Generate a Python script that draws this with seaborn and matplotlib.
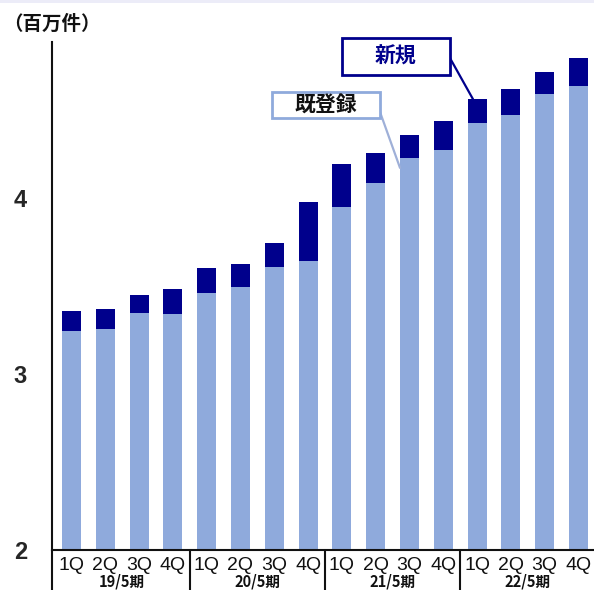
import matplotlib
matplotlib.use("Agg")
import matplotlib.pyplot as plt
import matplotlib.transforms as mtransforms
from matplotlib.patches import Rectangle
import pandas as pd
import seaborn as sns

# Registered items (millions), quarterly, fiscal years ending May
periods = ["19/5期", "20/5期", "21/5期", "22/5期"]
quarters = ["1Q", "2Q", "3Q", "4Q"]
existing = [3.246, 3.257, 3.345, 3.343,
            3.462, 3.493, 3.606, 3.642,
            3.950, 4.083, 4.226, 4.271,
            4.424, 4.472, 4.589, 4.638]
total = [3.358, 3.368, 3.447, 3.483,
         3.600, 3.625, 3.743, 3.976,
         4.191, 4.254, 4.356, 4.439,
         4.561, 4.618, 4.718, 4.794]
yticks = [2, 3, 4]
unit_label = "（百万件）"
new_label = "新規"
existing_label = "既登録"

LIGHT = "#8FAADC"
DARK = "#00008C"

rows = []
for i, (b, t) in enumerate(zip(existing, total)):
    rows.append({"key": f"{periods[i // 4]} {quarters[i % 4]}",
                 "quarter": quarters[i % 4],
                 "period": periods[i // 4],
                 "existing": b, "total": t})
df = pd.DataFrame(rows)

sns.set_theme(style="white")
plt.rcParams["font.family"] = ["Noto Sans CJK JP", "DejaVu Sans"]

W, H = 594, 590
fig = plt.figure(figsize=(W / 100, H / 100), dpi=100)
ax = fig.add_axes([52 / W, 40 / H, (W - 52) / W, 508 / H])

sns.barplot(data=df, x="key", y="total", color=DARK, saturation=1,
            width=0.56, linewidth=0, ax=ax)
sns.barplot(data=df, x="key", y="existing", color=LIGHT, saturation=1,
            width=0.56, linewidth=0, ax=ax)

ax.set_xlim(-0.577, 15.46)
ax.set_ylim(2, 4.886)
ax.set_xlabel("")
ax.set_ylabel("")

ax.set_yticks(yticks)
ax.set_yticklabels([str(v) for v in yticks], fontsize=17, fontweight="bold",
                   family=["Liberation Sans", "DejaVu Sans"])
ax.set_xticks(range(len(df)))
ax.set_xticklabels(df["quarter"], fontsize=14, color="#111111",
                   family=["Liberation Sans", "DejaVu Sans"])
ax.tick_params(axis="y", length=0, pad=18)
ax.tick_params(axis="x", length=0, pad=5)

for side in ["top", "right"]:
    ax.spines[side].set_visible(False)
for side in ["left", "bottom"]:
    ax.spines[side].set_color("#111111")
    ax.spines[side].set_linewidth(1.5)

# fiscal-year dividers and labels below the axis
trans = mtransforms.blended_transform_factory(ax.transData, ax.transAxes)
for xs in [-0.577, 3.5, 7.5, 11.5, 15.5]:
    ax.plot([xs, xs], [0, -0.085], transform=trans, color="#111111",
            lw=1.5, clip_on=False)
for g, p in enumerate(periods):
    ax.text(1.5 + 4 * g, -0.062, p, transform=trans, ha="center",
            va="center", fontsize=10.5, fontweight="bold", color="#111111")

# unit label
fig.text(3 / W, 1 - 24 / H, unit_label, ha="left", va="center",
         fontsize=14, fontweight="bold", color="#111111")

# callout: new registrations
ax.add_patch(Rectangle((8.0, 4.699), 3.198, 0.21, fill=True,
                       facecolor="white", edgecolor=DARK, lw=2,
                       clip_on=False, zorder=5))
ax.text(9.6, 4.804, new_label, ha="center", va="center", fontsize=15,
        fontweight="bold", color=DARK, zorder=6)
ax.annotate("", xy=(12 - 0.12, total[12]), xytext=(11.198, 4.795),
            arrowprops=dict(arrowstyle="-", color=DARK, lw=1.6,
                            shrinkA=0, shrinkB=0), annotation_clip=False)

# callout: existing registrations
ax.add_patch(Rectangle((5.932, 4.455), 3.195, 0.147, fill=True,
                       facecolor="white", edgecolor=LIGHT, lw=2,
                       clip_on=False, zorder=5))
ax.text(7.53, 4.528, existing_label, ha="center", va="center", fontsize=15,
        fontweight="bold", color="#111111", zorder=6)
ax.annotate("", xy=(10 - 0.28, existing[10] - 0.055), xytext=(9.127, 4.489),
            arrowprops=dict(arrowstyle="-", color="#9FB0D8", lw=1.6,
                            shrinkA=0, shrinkB=0), annotation_clip=False)

# faint band along the top edge
fig.patches.append(Rectangle((0, 1 - 3 / H), 1, 3 / H, transform=fig.transFigure,
                             facecolor="#ECECF8", edgecolor="none"))

fig.savefig("out.png", dpi=100)
